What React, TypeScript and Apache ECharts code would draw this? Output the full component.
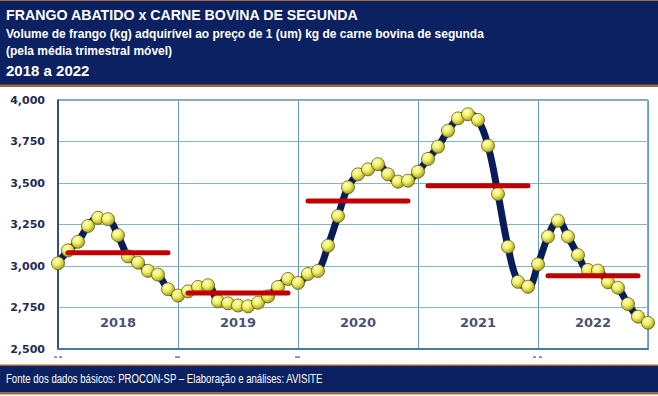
import React, { useEffect, useRef } from "react";
import * as echarts from "echarts";

const years = ["2018", "2019", "2020", "2021", "2022"];
const volume = [
  3016, 3094, 3146, 3241, 3290, 3282, 3185, 3058, 3020, 2971, 2948, 2860,
  2822, 2847, 2874, 2884, 2787, 2775, 2762, 2757, 2779, 2817, 2874, 2922,
  2898, 2952, 2970, 3122, 3301, 3474, 3552, 3582, 3613, 3552, 3508, 3514,
  3568, 3645, 3719, 3815, 3889, 3914, 3880, 3725, 3434, 3116, 2905, 2875,
  3010, 3177, 3273, 3177, 3066, 2976, 2972, 2902, 2869, 2771, 2695, 2658,
];
const yearAverage = [3080, 2838, 3392, 3484, 2942];
const yTicks = { min: 2500, max: 4000, step: 250 };

const titleLines = [
  "FRANGO ABATIDO x CARNE BOVINA DE SEGUNDA",
  "Volume de frango (kg) adquirível ao preço de 1 (um) kg de carne bovina de segunda",
  "(pela média trimestral móvel)",
  "2018 a 2022",
];
const footerText = "Fonte dos dados básicos: PROCON-SP – Elaboração e análises: AVISITE";

const NAVY = "#0B2161";
const BROWN = "#9A6A3A";

export default function App() {
  const ref = useRef<HTMLDivElement>(null);
  useEffect(() => {
    if (!ref.current) return;
    const chart = echarts.init(ref.current, null, { renderer: "svg" });
    const last = volume.length - 1;
    const lineData = volume.map((v, i) => [i, v]);
    const avgSeries = years.map((y, k) => {
      const start = k * 12;
      const from = start + 1;
      const to = Math.min(start + 11, last - 1);
      return {
        type: "line",
        name: "avg" + y,
        data: [
          [from, yearAverage[k]],
          [to, yearAverage[k]],
        ],
        symbol: "none",
        lineStyle: { color: "#C00000", width: 5, cap: "round" },
        z: 5,
        silent: true,
      };
    });
    const labelData = years.map((y, k) => {
      const start = k * 12;
      const end = Math.min(start + 12, last);
      return [(start + end) / 2, 2657, y];
    });
    const markerFill = new echarts.graphic.RadialGradient(0.38, 0.32, 0.72, [
      { offset: 0, color: "#FFFFD0" },
      { offset: 0.45, color: "#F2F060" },
      { offset: 1, color: "#9C9A20" },
    ]);
    const dash = (x: number, w: number) => ({
      type: "rect",
      shape: { x, y: 356.5, width: w, height: 1.2 },
      style: { fill: "#555" },
      z: 12,
    });
    chart.setOption({
      animation: false,
      backgroundColor: "#ffffff",
      grid: {
        left: 58,
        top: 100,
        width: 590,
        height: 249,
        show: true,
        borderColor: "#23406E",
        borderWidth: 1,
        backgroundColor: "#ffffff",
      },
      xAxis: {
        type: "value",
        min: 0,
        max: last,
        interval: 12,
        axisLabel: { show: false },
        axisTick: { show: false },
        axisLine: { show: true, lineStyle: { color: "#4A7A9E", width: 2 } },
        splitLine: { show: true, lineStyle: { color: "#6A9AB2", width: 1 } },
      },
      yAxis: {
        type: "value",
        min: yTicks.min,
        max: yTicks.max,
        interval: yTicks.step,
        axisLine: { show: true, lineStyle: { color: "#1F3566", width: 1.5 } },
        axisTick: { show: false },
        splitLine: { show: true, lineStyle: { color: "#86B6C2", width: 1 } },
        axisLabel: {
          margin: 13,
          fontFamily: "DejaVu Sans",
          fontWeight: "bold",
          fontSize: 11,
          color: "#1F2A5A",
          formatter: (v: number) => v.toLocaleString("en-US"),
        },
      },
      series: [
        {
          type: "line",
          data: lineData,
          smooth: 0.4,
          symbol: "circle",
          symbolSize: 13,
          showAllSymbol: true,
          lineStyle: { color: "#081C5A", width: 7 },
          itemStyle: { color: markerFill, borderColor: "#5E5C1E", borderWidth: 0.8 },
          z: 3,
          silent: true,
        },
        ...avgSeries,
        {
          type: "scatter",
          data: labelData,
          symbolSize: 1,
          itemStyle: { color: "rgba(0,0,0,0)" },
          silent: true,
          z: 6,
          label: {
            show: true,
            position: "inside",
            formatter: (p: any) => p.value[2],
            fontFamily: "DejaVu Sans",
            fontWeight: "bold",
            fontSize: 13,
            color: "#16224F",
          },
        },
      ],
      graphic: [
        { type: "rect", shape: { x: 0, y: 0, width: 658, height: 87 }, style: { fill: BROWN }, z: 10 },
        { type: "rect", shape: { x: 0, y: 1, width: 658, height: 83.5 }, style: { fill: NAVY }, z: 11 },
        {
          type: "text", x: 6, y: 14.5, z: 12,
          style: { text: titleLines[0], fill: "#fff", font: "bold 14.2px 'Liberation Sans', Arial", verticalAlign: "middle" },
        },
        {
          type: "text", x: 6, y: 33.5, z: 12,
          style: { text: titleLines[1], fill: "#fff", font: "bold 12px 'Liberation Sans', Arial", verticalAlign: "middle" },
        },
        {
          type: "text", x: 6, y: 51, z: 12,
          style: { text: titleLines[2], fill: "#fff", font: "bold 12px 'Liberation Sans', Arial", verticalAlign: "middle" },
        },
        {
          type: "text", x: 6, y: 70, z: 12,
          style: { text: titleLines[3], fill: "#fff", font: "bold 15px 'Liberation Sans', Arial", verticalAlign: "middle" },
        },
        { type: "rect", shape: { x: 0, y: 364.5, width: 658, height: 30 }, style: { fill: BROWN }, z: 10 },
        { type: "rect", shape: { x: 0, y: 366, width: 658, height: 26 }, style: { fill: NAVY }, z: 11 },
        {
          type: "text", x: 6, y: 378.5, z: 12, scaleX: 0.74,
          style: { text: footerText, fill: "#fff", font: "13px 'Liberation Sans', Arial", verticalAlign: "middle" },
        },
        dash(54, 3),
        dash(59, 3),
        dash(175, 5),
        dash(295, 5),
        dash(533, 3),
        dash(539, 3),
      ],
    });
    return () => chart.dispose();
  }, []);
  return (
    <div
      ref={ref}
      style={{ position: "fixed", left: 0, top: 0, width: 658, height: 396, background: "#fff" }}
    />
  );
}
